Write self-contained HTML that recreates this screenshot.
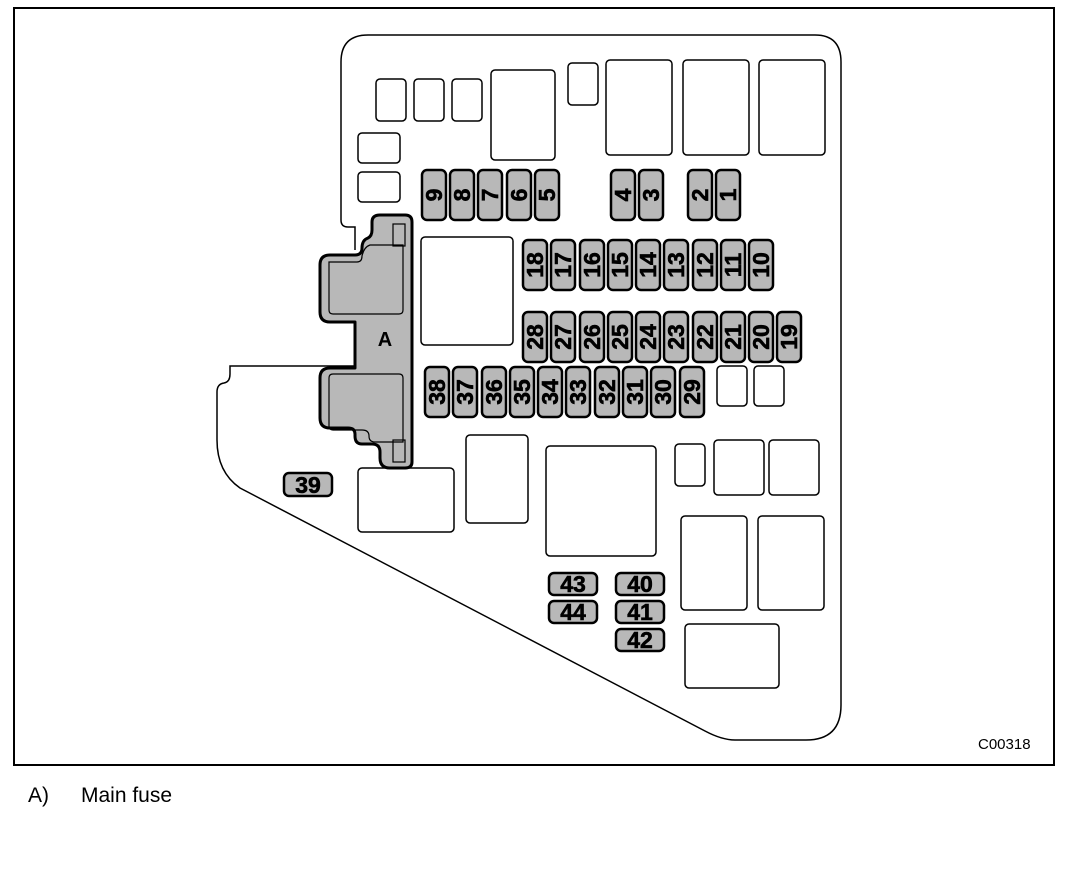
<!DOCTYPE html>
<html><head><meta charset="utf-8"><style>
html,body{margin:0;padding:0;background:#fff;}
svg{display:block;}
.b{fill:#fff;stroke:#000;stroke-width:1.5;}
.f{fill:#b8b8b8;stroke:#000;stroke-width:2.5;}
.t{font-family:"Liberation Sans",sans-serif;font-weight:bold;font-size:23px;fill:#000;stroke:#000;stroke-width:0.6;text-anchor:middle;dominant-baseline:central;}
</style></head><body>
<svg width="1080" height="880" viewBox="0 0 1080 880" xmlns="http://www.w3.org/2000/svg">
<rect x="14" y="8" width="1040" height="757" fill="#fff" stroke="#000" stroke-width="2"/>
<path d="M341,220 L341,62 Q341,35 368,35 L815,35 Q841,35 841,62 L841,705 Q841,740 806,740 L735,740 Q722,740 705,731 L240,488 Q217,472 217,440 L217,392 Q217,384 224,383 Q230,382 230,374 L230,366 L360,366 M341,220 Q341,227 348,227 L355,227 L355,250" fill="none" stroke="#000" stroke-width="1.5"/>
<rect class="b" x="376" y="79" width="30" height="42" rx="4"/>
<rect class="b" x="414" y="79" width="30" height="42" rx="4"/>
<rect class="b" x="452" y="79" width="30" height="42" rx="4"/>
<rect class="b" x="491" y="70" width="64" height="90" rx="4"/>
<rect class="b" x="568" y="63" width="30" height="42" rx="4"/>
<rect class="b" x="606" y="60" width="66" height="95" rx="4"/>
<rect class="b" x="683" y="60" width="66" height="95" rx="4"/>
<rect class="b" x="759" y="60" width="66" height="95" rx="4"/>
<rect class="b" x="358" y="133" width="42" height="30" rx="4"/>
<rect class="b" x="358" y="172" width="42" height="30" rx="4"/>
<rect class="b" x="421" y="237" width="92" height="108" rx="4"/>
<rect class="b" x="717" y="366" width="30" height="40" rx="4"/>
<rect class="b" x="754" y="366" width="30" height="40" rx="4"/>
<rect class="b" x="358" y="468" width="96" height="64" rx="4"/>
<rect class="b" x="466" y="435" width="62" height="88" rx="4"/>
<rect class="b" x="546" y="446" width="110" height="110" rx="4"/>
<rect class="b" x="675" y="444" width="30" height="42" rx="4"/>
<rect class="b" x="714" y="440" width="50" height="55" rx="4"/>
<rect class="b" x="769" y="440" width="50" height="55" rx="4"/>
<rect class="b" x="681" y="516" width="66" height="94" rx="4"/>
<rect class="b" x="758" y="516" width="66" height="94" rx="4"/>
<rect class="b" x="685" y="624" width="94" height="64" rx="4"/>
<path d="M380,215 L405,215 Q412,215 412,222 L412,462 Q412,468 405,468 L390,468 Q380,468 380,458 L380,452 Q380,444 372,444 L362,444 Q355,444 355,436 L355,434 Q355,428 348,428 L330,428 Q320,428 320,418 L320,378 Q320,368 330,368 L355,368 L355,322 L330,322 Q320,322 320,312 L320,265 Q320,255 330,255 L355,255 Q362,255 362,248 Q362,240 368,238 Q372,236 372,230 L372,222 Q372,215 380,215 Z" fill="#b8b8b8" stroke="#000" stroke-width="3" stroke-linejoin="round"/>
<path d="M329,262 L357,262 Q362,262 362,256 Q364,247 370,245 L393,245 L403,245 L403,310 Q403,314 399,314 L333,314 Q329,314 329,310 Z" fill="none" stroke="#000" stroke-width="1.2"/>
<path d="M333,374 L399,374 Q403,374 403,378 L403,442 L375,442 Q369,442 369,436 Q369,430 362,430 L333,430 Q329,430 329,426 L329,378 Q329,374 333,374 Z" fill="none" stroke="#000" stroke-width="1.2"/>
<rect x="393" y="224" width="12" height="22" fill="none" stroke="#000" stroke-width="1.2"/>
<rect x="393" y="440" width="12" height="22" fill="none" stroke="#000" stroke-width="1.2"/>
<text x="385" y="340" font-family="Liberation Sans, sans-serif" font-weight="bold" font-size="20" text-anchor="middle" dominant-baseline="central">A</text>
<g>
<rect class="f" x="422" y="170" width="24" height="50" rx="5"/><text class="t" transform="translate(434,195) rotate(-90)">9</text>
<rect class="f" x="450" y="170" width="24" height="50" rx="5"/><text class="t" transform="translate(462,195) rotate(-90)">8</text>
<rect class="f" x="478" y="170" width="24" height="50" rx="5"/><text class="t" transform="translate(490,195) rotate(-90)">7</text>
<rect class="f" x="507" y="170" width="24" height="50" rx="5"/><text class="t" transform="translate(519,195) rotate(-90)">6</text>
<rect class="f" x="535" y="170" width="24" height="50" rx="5"/><text class="t" transform="translate(547,195) rotate(-90)">5</text>
<rect class="f" x="611" y="170" width="24" height="50" rx="5"/><text class="t" transform="translate(623,195) rotate(-90)">4</text>
<rect class="f" x="639" y="170" width="24" height="50" rx="5"/><text class="t" transform="translate(651,195) rotate(-90)">3</text>
<rect class="f" x="688" y="170" width="24" height="50" rx="5"/><text class="t" transform="translate(700,195) rotate(-90)">2</text>
<rect class="f" x="716" y="170" width="24" height="50" rx="5"/><text class="t" transform="translate(728,195) rotate(-90)">1</text>

<rect class="f" x="523" y="240" width="24" height="50" rx="5"/><text class="t" transform="translate(535,265) rotate(-90)">18</text>
<rect class="f" x="551" y="240" width="24" height="50" rx="5"/><text class="t" transform="translate(563,265) rotate(-90)">17</text>
<rect class="f" x="580" y="240" width="24" height="50" rx="5"/><text class="t" transform="translate(592,265) rotate(-90)">16</text>
<rect class="f" x="608" y="240" width="24" height="50" rx="5"/><text class="t" transform="translate(620,265) rotate(-90)">15</text>
<rect class="f" x="636" y="240" width="24" height="50" rx="5"/><text class="t" transform="translate(648,265) rotate(-90)">14</text>
<rect class="f" x="664" y="240" width="24" height="50" rx="5"/><text class="t" transform="translate(676,265) rotate(-90)">13</text>
<rect class="f" x="693" y="240" width="24" height="50" rx="5"/><text class="t" transform="translate(705,265) rotate(-90)">12</text>
<rect class="f" x="721" y="240" width="24" height="50" rx="5"/><text class="t" transform="translate(733,265) rotate(-90)">11</text>
<rect class="f" x="749" y="240" width="24" height="50" rx="5"/><text class="t" transform="translate(761,265) rotate(-90)">10</text>

<rect class="f" x="523" y="312" width="24" height="50" rx="5"/><text class="t" transform="translate(535,337) rotate(-90)">28</text>
<rect class="f" x="551" y="312" width="24" height="50" rx="5"/><text class="t" transform="translate(563,337) rotate(-90)">27</text>
<rect class="f" x="580" y="312" width="24" height="50" rx="5"/><text class="t" transform="translate(592,337) rotate(-90)">26</text>
<rect class="f" x="608" y="312" width="24" height="50" rx="5"/><text class="t" transform="translate(620,337) rotate(-90)">25</text>
<rect class="f" x="636" y="312" width="24" height="50" rx="5"/><text class="t" transform="translate(648,337) rotate(-90)">24</text>
<rect class="f" x="664" y="312" width="24" height="50" rx="5"/><text class="t" transform="translate(676,337) rotate(-90)">23</text>
<rect class="f" x="693" y="312" width="24" height="50" rx="5"/><text class="t" transform="translate(705,337) rotate(-90)">22</text>
<rect class="f" x="721" y="312" width="24" height="50" rx="5"/><text class="t" transform="translate(733,337) rotate(-90)">21</text>
<rect class="f" x="749" y="312" width="24" height="50" rx="5"/><text class="t" transform="translate(761,337) rotate(-90)">20</text>
<rect class="f" x="777" y="312" width="24" height="50" rx="5"/><text class="t" transform="translate(789,337) rotate(-90)">19</text>

<rect class="f" x="425" y="367" width="24" height="50" rx="5"/><text class="t" transform="translate(437,392) rotate(-90)">38</text>
<rect class="f" x="453" y="367" width="24" height="50" rx="5"/><text class="t" transform="translate(465,392) rotate(-90)">37</text>
<rect class="f" x="482" y="367" width="24" height="50" rx="5"/><text class="t" transform="translate(494,392) rotate(-90)">36</text>
<rect class="f" x="510" y="367" width="24" height="50" rx="5"/><text class="t" transform="translate(522,392) rotate(-90)">35</text>
<rect class="f" x="538" y="367" width="24" height="50" rx="5"/><text class="t" transform="translate(550,392) rotate(-90)">34</text>
<rect class="f" x="566" y="367" width="24" height="50" rx="5"/><text class="t" transform="translate(578,392) rotate(-90)">33</text>
<rect class="f" x="595" y="367" width="24" height="50" rx="5"/><text class="t" transform="translate(607,392) rotate(-90)">32</text>
<rect class="f" x="623" y="367" width="24" height="50" rx="5"/><text class="t" transform="translate(635,392) rotate(-90)">31</text>
<rect class="f" x="651" y="367" width="24" height="50" rx="5"/><text class="t" transform="translate(663,392) rotate(-90)">30</text>
<rect class="f" x="680" y="367" width="24" height="50" rx="5"/><text class="t" transform="translate(692,392) rotate(-90)">29</text>
</g>
<rect class="f" x="284" y="473" width="48" height="23" rx="5"/><text class="t" x="308" y="485">39</text>
<rect class="f" x="549" y="573" width="48" height="22" rx="5"/><text class="t" x="573" y="584">43</text>
<rect class="f" x="549" y="601" width="48" height="22" rx="5"/><text class="t" x="573" y="612">44</text>
<rect class="f" x="616" y="573" width="48" height="22" rx="5"/><text class="t" x="640" y="584">40</text>
<rect class="f" x="616" y="601" width="48" height="22" rx="5"/><text class="t" x="640" y="612">41</text>
<rect class="f" x="616" y="629" width="48" height="22" rx="5"/><text class="t" x="640" y="640">42</text>
<text x="978" y="749" font-family="Liberation Sans, sans-serif" font-size="15">C00318</text>
<text x="28" y="802" font-family="Liberation Sans, sans-serif" font-size="21">A)</text>
<text x="81" y="802" font-family="Liberation Sans, sans-serif" font-size="21">Main fuse</text>
</svg>
</body></html>
